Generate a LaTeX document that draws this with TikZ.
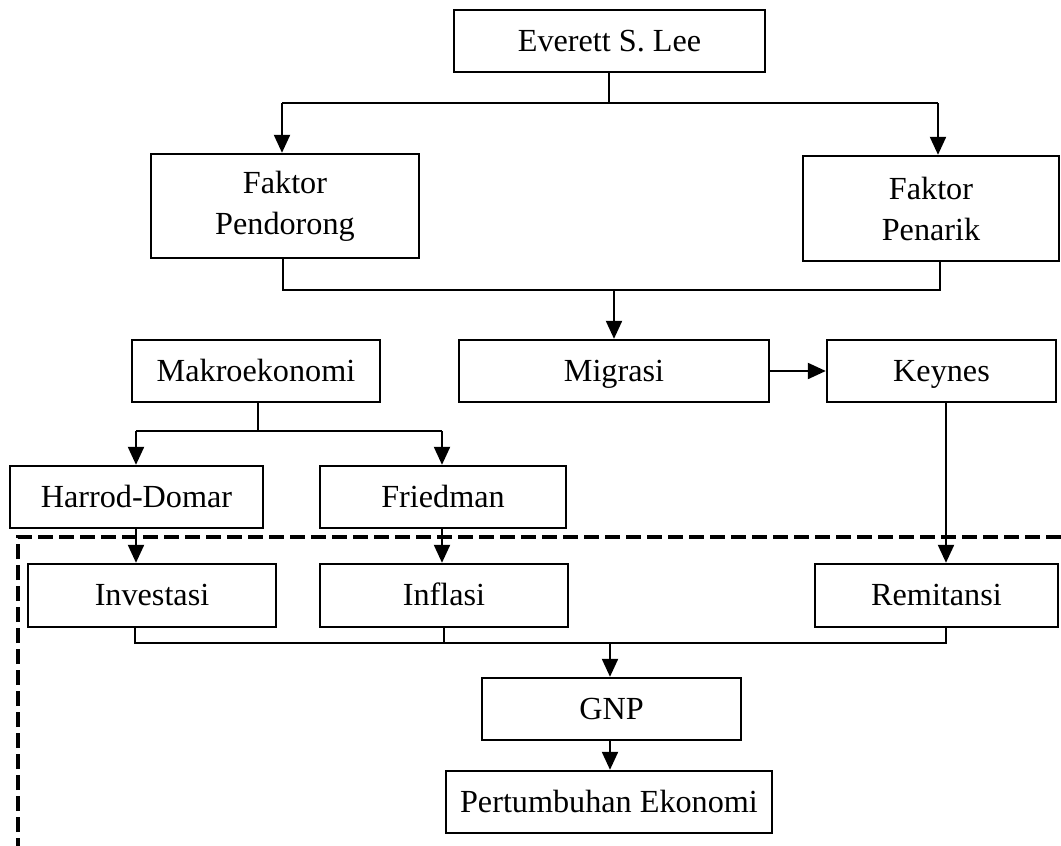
\documentclass[tikz,border=0pt]{standalone}
\usepackage{fontspec}
\setmainfont{Liberation Serif}
\usetikzlibrary{arrows.meta}
\begin{document}
\begin{tikzpicture}[x=1pt,y=-1pt,
  box/.style={draw,line width=2.4pt,fill=white,inner sep=0pt,align=center,
    font=\fontsize{32.2}{41}\selectfont},
  single/.style={box,text height=26pt,text depth=6pt},
  bus/.style={line width=1.3pt},
  arr/.style={line width=2.2pt,-{Triangle[width=16pt,length=18pt]}},
  dashbox/.style={line width=4pt,dash pattern=on 15pt off 6pt}]
\useasboundingbox (0,0) rectangle (1061,846);
\clip (0,0) rectangle (1061,846);
% dashed frame
\draw[dashbox] (18,1000) -- (18,537) -- (1100,537);
% nodes
\node[single,minimum width=311pt,minimum height=62pt] (lee) at (609.5,41) {Everett S. Lee};
\node[box,minimum width=268pt,minimum height=104pt] (push) at (285,206) {Faktor\\Pendorong};
\node[box,minimum width=256pt,minimum height=105pt] (pull) at (931,208.5) {Faktor\\Penarik};
\node[single,minimum width=248pt,minimum height=62pt] (makro) at (256,371) {Makroekonomi};
\node[single,minimum width=310pt,minimum height=62pt] (migrasi) at (614,371) {Migrasi};
\node[single,minimum width=229pt,minimum height=62pt] (keynes) at (941.5,371) {Keynes};
\node[single,minimum width=253pt,minimum height=62pt] (harrod) at (136.5,497) {Harrod-Domar};
\node[single,minimum width=246pt,minimum height=62pt] (friedman) at (443,497) {Friedman};
\node[single,minimum width=248pt,minimum height=63pt] (invest) at (152,595.5) {Investasi};
\node[single,minimum width=248pt,minimum height=63pt] (inflasi) at (444,595.5) {Inflasi};
\node[single,minimum width=243pt,minimum height=63pt] (remit) at (936.5,595.5) {Remitansi};
\node[single,minimum width=259pt,minimum height=62pt] (gnp) at (611.5,709) {GNP};
\node[single,minimum width=326pt,minimum height=62pt] (tumbuh) at (609,802) {Pertumbuhan Ekonomi};
% coordinates
\coordinate (b1) at (609,103);
\coordinate (b1l) at (282,103);
\coordinate (b1r) at (938,103);
\coordinate (b2l) at (283,290);
\coordinate (b2r) at (940,290);
\coordinate (b2m) at (614,290);
\coordinate (b3) at (258,431);
\coordinate (b3l) at (136,431);
\coordinate (b3r) at (442,431);
\coordinate (b4l) at (135,643);
\coordinate (b4m) at (444,643);
\coordinate (b4r) at (946,643);
\coordinate (b4c) at (610,643);
% connectors
\draw[bus] (lee.south -| b1) -- (b1);
\draw[bus] (b1l) -- (b1r);
\draw[arr] (b1l) -- (push.north -| b1l);
\draw[arr] (b1r) -- (pull.north -| b1r);
\draw[bus] (push.south -| b2l) -- (b2l) -- (b2r) -- (pull.south -| b2r);
\draw[arr] (b2m) -- (migrasi.north -| b2m);
\draw[arr] (migrasi.east) -- (keynes.west);
\draw[bus] (makro.south -| b3) -- (b3);
\draw[bus] (b3l) -- (b3r);
\draw[arr] (b3l) -- (harrod.north -| b3l);
\draw[arr] (b3r) -- (friedman.north -| b3r);
\draw[arr] (harrod.south -| b3l) -- (invest.north -| b3l);
\draw[arr] (friedman.south -| b3r) -- (inflasi.north -| b3r);
\draw[arr] (keynes.south -| b4r) -- (remit.north -| b4r);
\draw[bus] (invest.south -| b4l) -- (b4l) -- (b4r) -- (remit.south -| b4r);
\draw[bus] (inflasi.south -| b4m) -- (b4m);
\draw[arr] (b4c) -- (gnp.north -| b4c);
\draw[arr] (gnp.south -| b4c) -- (tumbuh.north -| b4c);
\end{tikzpicture}
\end{document}
